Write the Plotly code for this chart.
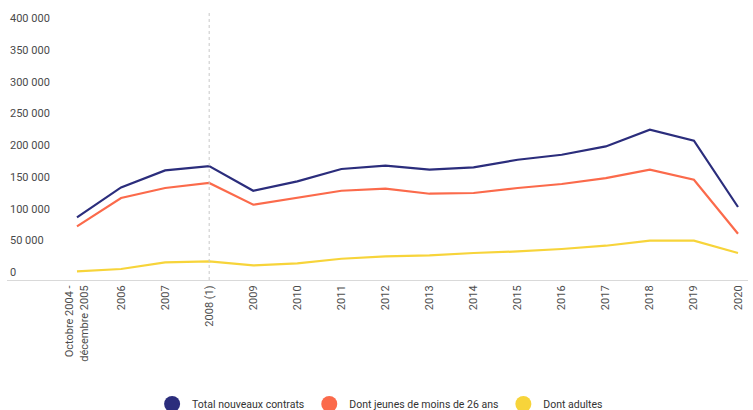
import plotly.graph_objects as go

# Contrats de professionnalisation : nouveaux contrats par année
periodes = [
    "Octobre 2004 -<br>décembre 2005", "2006", "2007", "2008 (1)", "2009", "2010",
    "2011", "2012", "2013", "2014", "2015", "2016", "2017", "2018", "2019", "2020",
]
total_nouveaux = [98600, 145800, 172600, 179500, 140600, 155300, 174800, 180000,
                  174000, 177300, 189400, 197300, 210400, 236700, 219400, 115000]
jeunes_moins_26 = [84400, 129100, 144900, 152800, 118600, 129100, 140600, 143800,
                   135900, 137000, 144900, 151200, 160600, 173700, 158000, 72900]
adultes = [13500, 17300, 27700, 29300, 23000, 26100, 33500, 37200,
           38700, 42500, 45000, 48800, 54000, 61900, 61900, 42500]

y_ticks = [0, 50000, 100000, 150000, 200000, 250000, 300000, 350000, 400000]
y_tick_labels = ["0", "50 000", "100 000", "150 000", "200 000", "250 000",
                 "300 000", "350 000", "400 000"]

series = [
    ("Total nouveaux contrats", total_nouveaux, "#2b2d7c"),
    ("Dont jeunes de moins de 26 ans", jeunes_moins_26, "#fb6a4b"),
    ("Dont adultes", adultes, "#f7d43a"),
]

idx = list(range(len(periodes)))
fig = go.Figure()

for name, values, color in series:
    fig.add_trace(go.Scatter(
        x=idx, y=values, mode="lines", name=name,
        line=dict(color=color, width=2.2),
        showlegend=False, hoverinfo="skip",
    ))

# Legend entries drawn as round swatches
for name, values, color in series:
    fig.add_trace(go.Scatter(
        x=[None], y=[None], mode="markers", name=name,
        marker=dict(color=color, size=16, symbol="circle"),
        showlegend=True,
    ))

# Dotted marker for the 2008 methodological break
fig.add_shape(type="line", xref="x", yref="paper",
              x0=periodes.index("2008 (1)"), x1=periodes.index("2008 (1)"),
              y0=0, y1=0.989,
              line=dict(color="#c8c8c8", width=1, dash="dot"))

fig.update_layout(
    width=753, height=410,
    margin=dict(l=7, r=5, t=7, b=130),
    paper_bgcolor="white", plot_bgcolor="white",
    font=dict(family="Roboto, sans-serif", color="#4d4d4d"),
    xaxis=dict(
        tickmode="array", tickvals=idx, ticktext=periodes,
        tickangle=-90, range=[-1.588, 15.227],
        showgrid=False, zeroline=False,
        showline=True, linecolor="#d9d9d9", linewidth=1,
        ticks="", tickfont=dict(size=11, color="#4d4d4d"),
    ),
    yaxis=dict(
        tickmode="array", tickvals=y_ticks, ticktext=y_tick_labels,
        range=[0, 430000], showgrid=False, zeroline=False, showline=False,
        ticks="", ticklabelposition="inside top",
        tickfont=dict(size=11, color="#4a4a4a"),
    ),
    legend=dict(
        orientation="h", xref="container", yref="container",
        x=0.202, xanchor="left", y=0.0146, yanchor="middle",
        font=dict(size=10.5, color="#333333"),
        itemsizing="trace", bgcolor="rgba(0,0,0,0)",
    ),
    showlegend=True,
)

fig.write_html("out.html")
